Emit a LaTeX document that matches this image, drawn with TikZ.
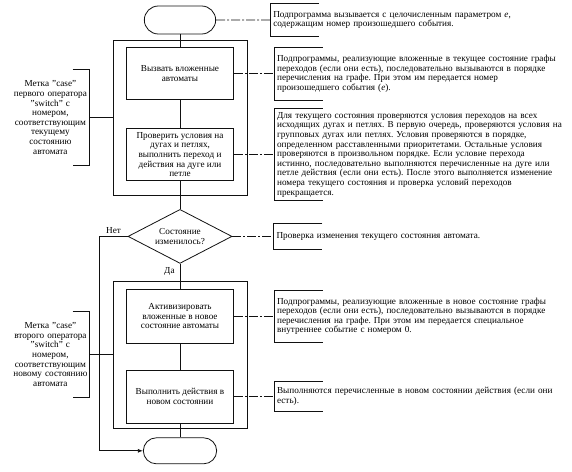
\documentclass[tikz,border=0pt]{standalone}
\usepackage{fontspec}
\setmainfont{Liberation Serif}
\usetikzlibrary{positioning,arrows.meta,shapes.misc,shapes.geometric}
\definecolor{fcInk}{HTML}{111111}
\newcommand{\fcfont}{\fontsize{9.2}{9.6}\selectfont\frenchspacing}
\tikzset{
  blk/.style      = {draw=fcInk, line width=0.8pt, align=center, font=\fcfont,
                     minimum width=107pt, inner sep=1pt},
  outerbox/.style = {draw=fcInk, line width=0.8pt, minimum width=134pt, inner sep=0pt},
  term/.style     = {rounded rectangle, draw=fcInk, line width=0.8pt,
                     minimum width=78pt, minimum height=28pt},
  cond/.style     = {diamond, aspect=2, draw=fcInk, line width=0.8pt, align=center,
                     font=\fcfont, minimum width=104pt, minimum height=54pt, inner sep=0pt},
  side/.style     = {align=center, font=\fcfont, text width=78pt, inner xsep=0pt},
  memo/.style     = {align=left, font=\fcfont, text width=292pt, inner xsep=3pt},
  lbl/.style      = {font=\fcfont, inner sep=2pt},
  link/.style     = {line width=0.8pt, draw=fcInk},
  arr/.style      = {-{Latex[length=5pt,width=4pt]}, line width=0.8pt, draw=fcInk},
  dlink/.style    = {line width=0.8pt, draw=fcInk, dash pattern=on 9pt off 2pt on 2pt off 2pt},
}

\begin{document}
\begin{tikzpicture}[x=1pt, y=-1pt]
  \useasboundingbox (0,0) rectangle (572,471);

  \node[outerbox, minimum height=155pt] (frA) at (180,117.5) {};
  \node[outerbox, minimum height=147pt] (frB) at (180,354.5) {};

  \node[term] (begin) at (180,20) {};
  \node[blk, minimum height=52pt, below=13pt of begin] (call)
    {Вызвать вложенные\\автоматы};
  \node[blk, minimum height=52pt, below=28pt of call] (check)
    {Проверить условия на\\дугах и петлях,\\выполнить переход и\\действия на дуге или\\петле};
  \node[cond, below=28pt of check] (dec) {Состояние\\изменилось?};
  \node[blk, minimum height=54pt, below=25pt of dec] (act)
    {Активизировать\\вложенные в новое\\состояние автоматы};
  \node[blk, minimum height=53pt, below=26pt of act] (doit)
    {Выполнить действия в\\новом состоянии};
  \node[term, minimum height=26pt, minimum width=80pt, below=14pt of doit] (end) {};

  \draw[link] (begin) -- (call);
  \draw[link] (call) -- (check);
  \draw[link] (check) -- (dec);
  \draw[link] (dec) -- node[lbl, pos=0.3, left, xshift=-3pt]{Да} (act);
  \draw[link] (act) -- (doit);
  \draw[link] (doit) -- (end);
  \draw[arr] (dec.west) -- node[lbl, midway, above]{Нет} ([xshift=-28pt]dec.west) |- (end.west);

  % left brackets
  \node[side, minimum height=96pt, left=23pt of frA] (lab1)
    {Метка "case"\\первого оператора\\"switch" с\\номером,\\соответствующим\\текущему\\состоянию\\автомата};
  \node[side, minimum height=85pt, left=23pt of frB] (lab2)
    {Метка "case"\\второго оператора\\"switch" с\\номером,\\соответствующим\\новому состоянию\\автомата};
  \foreach \n/\f in {1/frA, 2/frB} {
    \draw[link] ([xshift=-17pt]lab\n.north east) -- (lab\n.north east)
      -- (lab\n.south east) -- ([xshift=-17pt]lab\n.south east);
    \draw[link] (lab\n) -- (\f);
  }

  % right notes
  \node[memo, minimum height=33pt, right=54pt of begin] (ann1)
    {Подпрограмма вызывается с целочисленным параметром \textit{e},\\
     содержащим номер произошедшего события.};
  \node[memo, minimum height=52pt, right=40pt of call] (ann2)
    {Подпрограммы, реализующие вложенные в текущее состояние графы\\
     переходов (если они есть), последовательно вызываются в порядке\\
     перечисления на графе. При этом им передается номер\\
     произошедшего события (\textit{e}).};
  \node[memo, minimum height=89pt, right=40pt of check] (ann3)
    {Для текущего состояния проверяются условия переходов на всех\\
     исходящих дугах и петлях. В первую очередь, проверяются условия на\\
     групповых дугах или петлях. Условия проверяются в порядке,\\
     определенном расставленными приоритетами. Остальные условия\\
     проверяются в произвольном порядке. Если условие перехода\\
     истинно, последовательно выполняются перечисленные на дуге или\\
     петле действия (если они есть). После этого выполняется изменение\\
     номера текущего состояния и проверка условий переходов\\
     прекращается.};
  \node[memo, minimum height=25pt, right=41pt of dec] (ann4)
    {Проверка изменения текущего состояния автомата.};
  \node[memo, minimum height=52pt, right=40pt of act] (ann5)
    {Подпрограммы, реализующие вложенные в новое состояние графы\\
     переходов (если они есть), последовательно вызываются в порядке\\
     перечисления на графе. При этом им передается специальное\\
     внутреннее событие с номером 0.};
  \node[memo, minimum height=30pt, right=40pt of doit] (ann6)
    {Выполняются перечисленные в новом состоянии действия (если они\\
     есть).};
  \foreach \n/\s in {1/begin, 2/call, 3/check, 4/dec, 5/act, 6/doit} {
    \draw[link] ([xshift=49pt]ann\n.north west) -- (ann\n.north west)
      -- (ann\n.south west) -- ([xshift=49pt]ann\n.south west);
    \draw[dlink] (\s) -- (ann\n);
  }
\end{tikzpicture}
\end{document}
